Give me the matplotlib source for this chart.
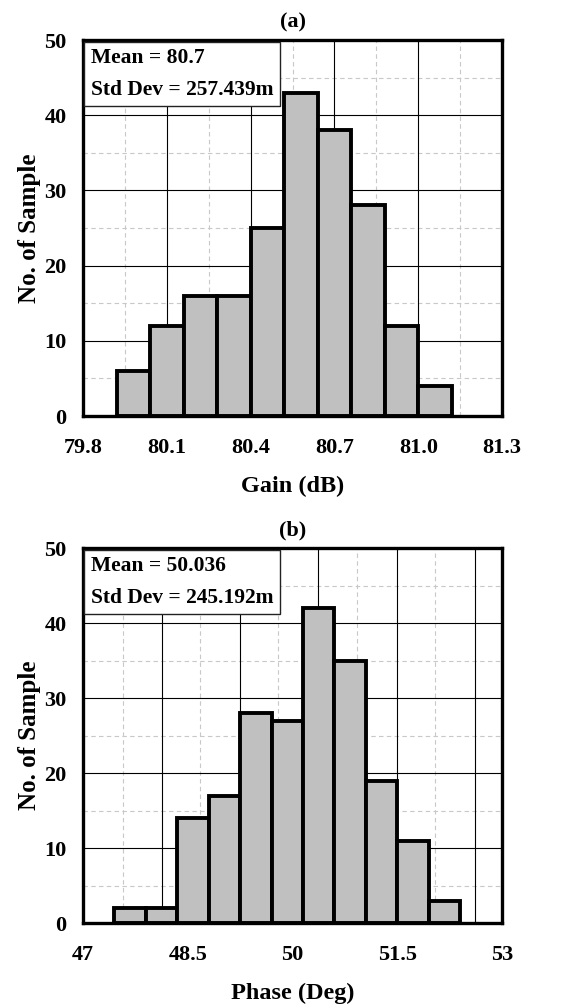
import matplotlib
matplotlib.use('Agg')

import numpy as np
import matplotlib.pyplot as plt

# (a) gain histogram
gain_edges = [79.92, 80.04, 80.16, 80.28, 80.40, 80.52, 80.64, 80.76, 80.88, 81.00, 81.12]
gain_counts = [6, 12, 16, 16, 25, 43, 38, 28, 12, 4]
gain_ticks = [79.8, 80.1, 80.4, 80.7, 81.0, 81.3]
gain_ticklabels = ['79.8', '80.1', '80.4', '80.7', '81.0', '81.3']
gain_major = [80.1, 80.4, 80.7, 81.0]
gain_minor = [79.95, 80.25, 80.55, 80.85, 81.15]

# (b) phase histogram
phase_edges = [47.45, 47.90, 48.35, 48.80, 49.25, 49.70, 50.15, 50.60, 51.05, 51.50, 51.95, 52.40]
phase_counts = [2, 2, 14, 17, 28, 27, 42, 35, 19, 11, 3]
phase_ticks = [47, 48.5, 50, 51.5, 53]
phase_ticklabels = ['47', '48.5', '50', '51.5', '53']
phase_major = [48.13, 49.25, 50.37, 51.5, 52.61]
phase_minor = [47.57, 48.68, 49.79, 50.92, 52.04]

y_major = [10, 20, 30, 40]
y_minor = [5, 15, 25, 35, 45]

plt.rcParams['font.family'] = ['Liberation Serif', 'DejaVu Serif']
plt.rcParams['font.weight'] = 'bold'

fig = plt.figure(figsize=(5.65, 10.08), dpi=100)


def draw_hist(rect, edges, counts, ticks, ticklabels, xmajor, xminor,
              title, xlabel, stats):
    ax = fig.add_axes(rect)
    edges = np.array(edges)
    ax.bar(edges[:-1], counts, width=np.diff(edges), align='edge',
           color='#c0c0c0', edgecolor='black', linewidth=2.8, zorder=3)
    for x in xminor:
        ax.axvline(x, color='#c8c8c8', lw=0.8, ls=(0, (4, 3)), zorder=1)
    for y in y_minor:
        ax.axhline(y, color='#c8c8c8', lw=0.8, ls=(0, (4, 3)), zorder=1)
    for x in xmajor:
        ax.axvline(x, color='black', lw=0.8, zorder=2)
    for y in y_major:
        ax.axhline(y, color='black', lw=0.8, zorder=2)

    ax.set_xlim(ticks[0], ticks[-1])
    ax.set_ylim(0, 50)
    ax.set_xticks(ticks)
    ax.set_xticklabels(ticklabels)
    ax.set_yticks([0, 10, 20, 30, 40, 50])
    ax.tick_params(length=0, labelsize=16)
    ax.tick_params(axis='x', pad=16)
    ax.tick_params(axis='y', pad=12)
    for s in ax.spines.values():
        s.set_linewidth(2.4)
        s.set_zorder(5)

    ax.set_title(title, fontsize=16, fontweight='bold', pad=9)
    ax.set_xlabel(xlabel, fontsize=17.5, fontweight='bold', labelpad=13)
    ax.set_ylabel('No. of Sample', fontsize=18, fontweight='bold', labelpad=2)

    ax.text(0.018, 0.978, stats, transform=ax.transAxes, fontsize=15.5,
            fontweight='bold', va='top', ha='left', linespacing=1.75,
            zorder=6,
            bbox=dict(boxstyle='square,pad=0.3', fc='white', ec='#222222', lw=1.0))
    return ax


draw_hist([0.147, 0.5873, 0.7416, 0.373], gain_edges, gain_counts,
          gain_ticks, gain_ticklabels, gain_major, gain_minor,
          '(a)', 'Gain (dB)', 'Mean = 80.7\nStd Dev = 257.439m')

draw_hist([0.147, 0.0843, 0.7416, 0.372], phase_edges, phase_counts,
          phase_ticks, phase_ticklabels, phase_major, phase_minor,
          '(b)', 'Phase (Deg)', 'Mean = 50.036\nStd Dev = 245.192m')

fig.savefig('out.png', dpi=100)
